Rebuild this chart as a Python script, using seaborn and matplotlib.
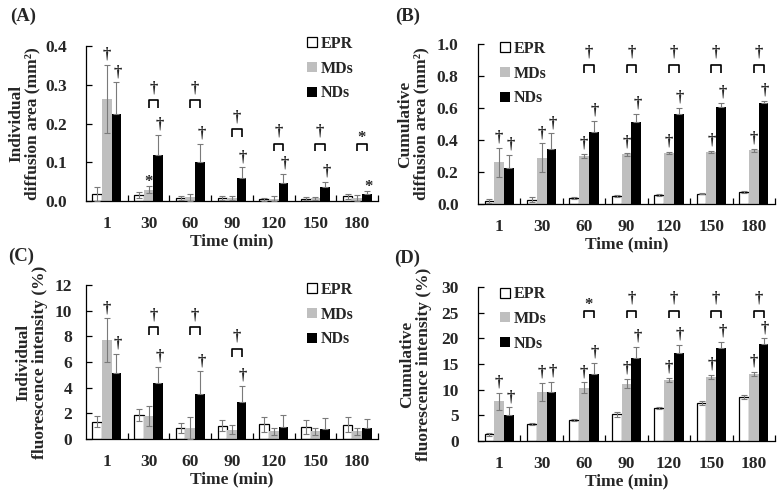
import numpy as np
import pandas as pd
import matplotlib
matplotlib.use("Agg")
import matplotlib.pyplot as plt
import seaborn as sns
from matplotlib.patches import Patch
from matplotlib.ticker import FormatStrFormatter

sns.set_style("white")
plt.rcParams["font.family"] = ["Liberation Serif", "DejaVu Serif"]
plt.rcParams["font.weight"] = "bold"
plt.rcParams["axes.labelweight"] = "bold"

times = ["1", "30", "60", "90", "120", "150", "180"]
groups = ["EPR", "MDs", "NDs"]

# ---- Panel A: individual diffusion area (mm2)
a_epr = [0.018, 0.016, 0.008, 0.008, 0.005, 0.006, 0.012]
a_epr_err = [0.017, 0.008, 0.006, 0.005, 0.004, 0.004, 0.006]
a_mds = [0.263, 0.029, 0.010, 0.007, 0.006, 0.007, 0.008]
a_mds_err = [0.088, 0.009, 0.009, 0.005, 0.006, 0.004, 0.008]
a_nds = [0.224, 0.119, 0.100, 0.060, 0.046, 0.036, 0.018]
a_nds_err = [0.082, 0.052, 0.047, 0.027, 0.024, 0.014, 0.007]
a_mds_sig = ["†", "*", "", "", "", "", ""]
a_nds_sig = ["†", "†", "†", "†", "†", "†", "*"]
a_pair_sig = ["", "†", "†", "†", "†", "†", "*"]
a_pair_y = [None, 0.26, 0.26, 0.185, 0.148, 0.148, 0.148]

# ---- Panel B: cumulative diffusion area (mm2)
b_epr = [0.017, 0.028, 0.040, 0.050, 0.056, 0.065, 0.075]
b_epr_err = [0.012, 0.013, 0.006, 0.006, 0.004, 0.004, 0.005]
b_mds = [0.260, 0.289, 0.301, 0.310, 0.319, 0.326, 0.336]
b_mds_err = [0.090, 0.090, 0.014, 0.010, 0.008, 0.008, 0.010]
b_nds = [0.224, 0.342, 0.450, 0.515, 0.565, 0.607, 0.630]
b_nds_err = [0.082, 0.100, 0.070, 0.050, 0.037, 0.027, 0.014]
b_mds_sig = ["†"] * 7
b_nds_sig = ["†"] * 7
b_pair_sig = ["", "", "†", "†", "†", "†", "†"]
b_pair_y = [None, None, 0.87, 0.87, 0.87, 0.87, 0.87]

# ---- Panel C: individual fluorescence intensity (%)
c_epr = [1.35, 1.87, 0.85, 1.05, 1.13, 0.93, 1.12]
c_epr_err = [0.42, 0.50, 0.42, 0.45, 0.55, 0.55, 0.58]
c_mds = [7.69, 1.79, 0.85, 0.74, 0.60, 0.60, 0.60]
c_mds_err = [1.70, 0.78, 0.84, 0.35, 0.25, 0.25, 0.25]
c_nds = [5.14, 4.34, 3.50, 2.92, 0.95, 0.80, 0.82]
c_nds_err = [1.51, 1.27, 1.79, 1.24, 0.90, 0.87, 0.72]
c_mds_sig = ["†", "", "", "", "", "", ""]
c_nds_sig = ["†", "†", "†", "†", "", "", ""]
c_pair_sig = ["", "†", "†", "†", "", "", ""]
c_pair_y = [None, 8.7, 8.7, 7.0, None, None, None]

# ---- Panel D: cumulative fluorescence intensity (%)
d_epr = [1.3, 3.3, 4.1, 5.2, 6.4, 7.4, 8.6]
d_epr_err = [0.35, 0.2, 0.2, 0.45, 0.2, 0.35, 0.35]
d_mds = [7.7, 9.5, 10.4, 11.2, 11.9, 12.5, 13.1]
d_mds_err = [1.7, 1.8, 1.0, 0.9, 0.45, 0.45, 0.4]
d_nds = [5.1, 9.5, 13.1, 16.1, 17.2, 18.1, 18.9]
d_nds_err = [1.5, 2.0, 2.1, 2.2, 1.5, 1.2, 1.1]
d_mds_sig = ["†"] * 7
d_nds_sig = ["†"] * 7
d_pair_sig = ["", "", "*", "†", "†", "†", "†"]
d_pair_y = [None, None, 25.4, 25.4, 25.4, 25.4, 25.4]

colors = {"EPR": "white", "MDs": "#bfbfbf", "NDs": "black"}
ERR_COLOR = "#7a7a7a"

fig = plt.figure(figsize=(7.78, 4.96), dpi=100)
W, H = 778.0, 496.0


def add_axes(l, r, t, b):
    return fig.add_axes([l / W, 1 - b / H, (r - l) / W, (b - t) / H])


def draw_panel(ax, vals, errs, sigs, pair_sig, pair_y, ylim, ystep, fmt,
               ylabel, ypad, ylab_x, leg_anchor):
    df = pd.DataFrame({
        "Time": times * 3,
        "Group": [g for g in groups for _ in times],
        "Value": vals[0] + vals[1] + vals[2],
    })
    sns.barplot(data=df, x="Time", y="Value", hue="Group", order=times,
                hue_order=groups, palette=colors, errorbar=None, width=0.69,
                saturation=1, ax=ax, legend=False)
    bar_conts = list(ax.containers)
    for k, cont in enumerate(bar_conts):
        for p in cont:
            if k == 0:
                p.set_edgecolor("black")
                p.set_linewidth(0.9)
            else:
                p.set_edgecolor("none")
                p.set_linewidth(0)
    centers = []
    for k, cont in enumerate(bar_conts):
        cx = [p.get_x() + p.get_width() / 2 for p in cont]
        centers.append(cx)
    for k in range(3):
        e = np.array(errs[k])
        yerr = [np.zeros_like(e), e] if k == 2 else e
        ax.errorbar(centers[k], vals[k], yerr=yerr, fmt="none", ecolor=ERR_COLOR,
                    elinewidth=0.8, capsize=2.2, capthick=0.8, zorder=4)
    rng = ylim[1] - ylim[0]
    # significance markers above bars
    for k in (1, 2):
        for i, s in enumerate(sigs[k - 1]):
            if not s:
                continue
            top = vals[k][i] + errs[k][i]
            dy = -3 if s == "*" else 1.5
            ax.annotate(s, xy=(centers[k][i], top), xytext=(1 if k == 2 else 0, dy),
                        textcoords="offset points", ha="center", va="bottom",
                        fontsize=12, fontweight="bold", zorder=5)
    # brackets between MDs and NDs
    drop = rng * 0.05
    for i, s in enumerate(pair_sig):
        if not s:
            continue
        y = pair_y[i]
        x0, x1 = centers[1][i], centers[2][i]
        ax.plot([x0, x0, x1, x1], [y - drop, y, y, y - drop], color="black",
                lw=1.2, solid_capstyle="butt", zorder=5, clip_on=False)
        dy = -2 if s == "*" else 3
        ax.annotate(s, xy=((x0 + x1) / 2, y), xytext=(0, dy),
                    textcoords="offset points", ha="center", va="bottom",
                    fontsize=12, fontweight="bold", zorder=5)

    ax.set_xlim(-0.5, 6.5)
    ax.set_ylim(*ylim)
    ax.set_yticks(np.arange(ylim[0], ylim[1] + ystep / 2, ystep))
    ax.yaxis.set_major_formatter(FormatStrFormatter(fmt))
    ax.set_xticks(range(7))
    ax.set_xticklabels(times)
    ax.set_xticks(np.arange(0.5, 7, 1), minor=True)
    ax.tick_params(axis="x", which="major", length=0, pad=11, labelsize=12.5)
    ax.tick_params(axis="x", which="minor", direction="in", length=4,
                   width=0.9, color="black", bottom=True)
    ax.tick_params(axis="y", which="major", direction="in", length=4,
                   width=0.9, color="black", pad=ypad, labelsize=12.5, left=True)
    for lab in ax.get_xticklabels() + ax.get_yticklabels():
        lab.set_fontweight("bold")
    for side in ("top", "right"):
        ax.spines[side].set_visible(False)
    for side in ("left", "bottom"):
        ax.spines[side].set_color("black")
        ax.spines[side].set_linewidth(0.9)
    ax.set_xlabel("Time (min)", fontsize=12.5, fontweight="bold", labelpad=0.5)
    ax.set_ylabel(ylabel, fontsize=12.5, fontweight="bold", linespacing=1.05)
    ax.yaxis.set_label_coords(ylab_x, 0.5)
    handles = [Patch(facecolor="white", edgecolor="black", linewidth=0.9),
               Patch(facecolor="#bfbfbf", edgecolor="none"),
               Patch(facecolor="black", edgecolor="none")]
    ax.legend(handles, groups, loc="upper left", bbox_to_anchor=leg_anchor,
              frameon=False, handlelength=0.6, handleheight=0.6,
              handletextpad=0.25, labelspacing=0.55, borderpad=0,
              borderaxespad=0, prop={"family": "Liberation Serif",
                                     "weight": "bold", "size": 11.5})


axA = add_axes(86, 378, 46, 201)
draw_panel(axA, [a_epr, a_mds, a_nds], [a_epr_err, a_mds_err, a_nds_err],
           [a_mds_sig, a_nds_sig], a_pair_sig, a_pair_y, (0, 0.4), 0.1, "%.1f",
           "Individual\ndiffusion area (mm²)", 13.5, -0.155, (0.757, 1.065))

axB = add_axes(478, 775, 44, 204)
draw_panel(axB, [b_epr, b_mds, b_nds], [b_epr_err, b_mds_err, b_nds_err],
           [b_mds_sig, b_nds_sig], b_pair_sig, b_pair_y, (0, 1.0), 0.2, "%.1f",
           "Cumulative\ndiffusion area (mm²)", 14, -0.162, (0.074, 1.02))

axC = add_axes(86, 378, 285, 439)
draw_panel(axC, [c_epr, c_mds, c_nds], [c_epr_err, c_mds_err, c_nds_err],
           [c_mds_sig, c_nds_sig], c_pair_sig, c_pair_y, (0, 12), 2, "%d",
           "Individual\nfluorescence intensity (%)", 10, -0.13, (0.757, 1.02))

axD = add_axes(478, 775, 287, 441)
draw_panel(axD, [d_epr, d_mds, d_nds], [d_epr_err, d_mds_err, d_nds_err],
           [d_mds_sig, d_nds_sig], d_pair_sig, d_pair_y, (0, 30), 5, "%d",
           "Cumulative\nfluorescence intensity (%)", 14, -0.155, (0.074, 1.005))

for lab, x, y in [("(A)", 10, 16), ("(B)", 395, 16), ("(C)", 8, 256), ("(D)", 394, 258)]:
    fig.text(x / W, 1 - y / H, lab, ha="left", va="center", fontsize=13.5,
             fontweight="bold")

fig.savefig("out.png", dpi=100)
